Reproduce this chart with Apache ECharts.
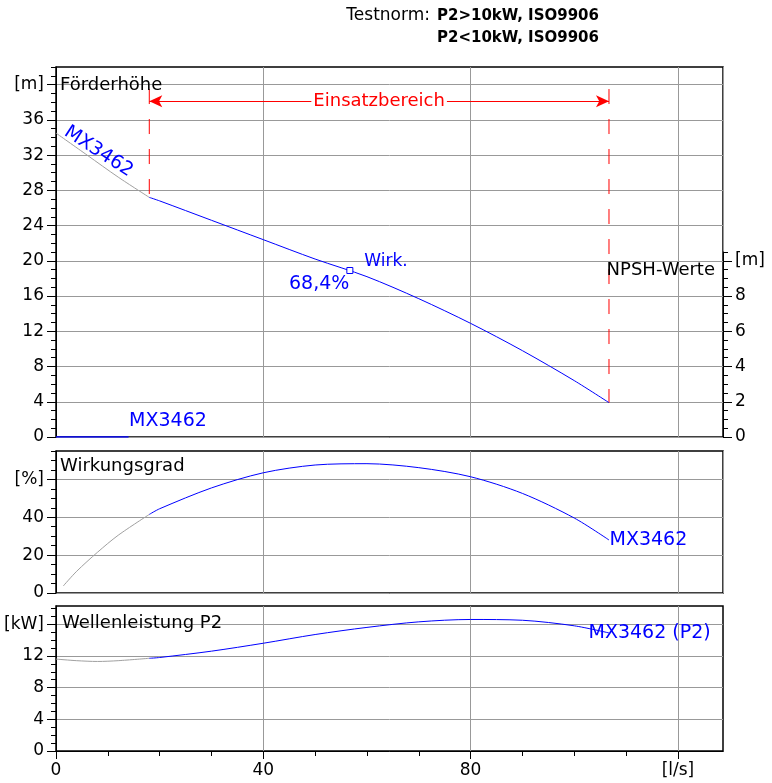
<!DOCTYPE html>
<html>
<head>
<meta charset="utf-8">
<script src="https://cdn.jsdelivr.net/npm/echarts@6/dist/echarts.min.js"></script>
<style>
  html, body { margin: 0; background: #fff; }
  #chart { width: 772px; height: 783px; }
</style>
</head>
<body>
<div id="chart"></div>
<script>
// Achsen-Teilung
const qTicks = [0, 40, 80, 120];
const headTicks = [0, 4, 8, 12, 16, 20, 24, 28, 32, 36, 40];
const npshTicks = [0, 2, 4, 6, 8, 10];
const effTicks = [0, 20, 40, 60];
const powerTicks = [0, 4, 8, 12, 16];

// Förderhöhe [m] über Förderstrom [l/s]
const headQGray = [0, 6, 12, 18];
const headGray = [34.5, 32.0, 29.5, 27.2];
const headQ = [18, 20, 30, 40, 50, 60, 70, 80, 90, 100, 106.7];
const head = [27.2, 26.8, 24.6, 22.4, 20.2, 18.2, 15.7, 12.9, 9.8, 6.4, 3.9];

// NPSH [m]
const npshQ = [0, 14];
const npsh = [0, 0];

// Wirkungsgrad [%]
const effQGray = [1.4, 4, 8, 12, 18];
const effGray = [3.7, 11.5, 21.5, 30.5, 41.5];
const effQ = [18, 20, 30, 40, 50, 60, 70, 80, 90, 100, 106.7];
const eff = [41.5, 44.5, 55.5, 63.5, 67.6, 68.3, 66.2, 61.4, 52.6, 39.6, 28];

// Wellenleistung P2 [kW]
const powerQGray = [0, 4, 8, 12, 18];
const powerGray = [11.6, 11.4, 11.3, 11.4, 11.7];
const powerQ = [18, 20, 30, 40, 50, 60, 70, 80, 90, 100, 106.7];
const power = [11.7, 11.8, 12.6, 13.6, 14.7, 15.6, 16.3, 16.6, 16.5, 15.8, 14.9];

// Betriebspunkt, Einsatzbereich
const bepQ = 56.7;
const bepHead = 18.9;
const rangeTop = 39.5;
const arrowHead = 38.1;

const FONT = 'DejaVu Sans';
const BLUE = '#0000ff';
const GRAY = '#a0a0a0';
const RED = '#ff0000';
const X_MAX = 128.7;

const chart = echarts.init(document.getElementById('chart'));

const pairs = (xs, ys) => xs.map((x, i) => [x, ys[i]]);
const range = (a, b, s) => {
  const r = [];
  for (let v = a; v <= b + 1e-9; v += s) r.push(+v.toFixed(2));
  return r;
};
const last = arr => arr[arr.length - 1];

const gridLine = { show: true, lineStyle: { color: '#999', width: 1 } };
const labelStyle = { color: '#000', fontSize: 17, fontFamily: FONT };

// x-Achse ohne Beschriftung (nur Gitter)
const plainX = gridIndex => ({
  type: 'value', gridIndex, min: 0, max: X_MAX, interval: 40,
  axisLine: { show: false, onZero: false },
  axisTick: { show: false },
  axisLabel: { show: false },
  splitLine: gridLine
});

// y-Achse: Hauptstriche + Beschriftung
const majorY = (gridIndex, max, interval, ticks, unitAt, unit, position) => ({
  type: 'value', gridIndex, min: 0, max, interval, position: position || 'left',
  axisLine: { show: true, onZero: false, lineStyle: { color: '#000', width: 1 } },
  axisTick: { show: true, customValues: ticks, length: 9, lineStyle: { color: '#000' } },
  axisLabel: Object.assign({
    customValues: ticks, margin: 12,
    formatter: v => (v === unitAt ? unit : String(v))
  }, labelStyle),
  splitLine: position === 'right' ? { show: false } : gridLine
});

// y-Achse: Zwischenstriche
const minorY = (gridIndex, max, ticks, position) => ({
  type: 'value', gridIndex, min: 0, max, position: position || 'left',
  axisLine: { show: false, onZero: false },
  axisTick: { show: true, customValues: ticks, length: 5, lineStyle: { color: '#000' } },
  axisLabel: { show: false },
  splitLine: { show: false }
});

const curve = (xi, yi, data, color, extra) => Object.assign({
  type: 'line', xAxisIndex: xi, yAxisIndex: yi, data,
  smooth: 0.3, symbol: 'none', silent: true,
  lineStyle: { color, width: 1 }
}, extra || {});

// rote Begrenzung des Einsatzbereichs
const limitLine = (q, h) => ({
  type: 'line', xAxisIndex: 0, yAxisIndex: 0,
  data: [[q, rangeTop], [q, h]],
  symbol: 'none', silent: true, z: 3,
  lineStyle: { color: RED, width: 1, type: [15, 15] }
});

const textMark = (coord, text, label) => ({
  coord, symbol: 'circle', symbolSize: 1,
  itemStyle: { color: 'transparent' },
  label: Object.assign({ show: true, formatter: text, color: BLUE, fontSize: 19, fontFamily: FONT }, label)
});

const titleStyle = { fontSize: 18, fontWeight: 'normal', color: '#000', fontFamily: FONT, lineHeight: 20 };

const option = {
  animation: false,
  backgroundColor: '#fff',
  textStyle: { fontFamily: FONT },
  title: [
    { text: 'Testnorm:', right: 342, top: 6, padding: 0,
      textStyle: { fontSize: 17, fontWeight: 'normal', color: '#000', fontFamily: FONT, lineHeight: 20 } },
    { text: 'P2>10kW, ISO9906\nP2<10kW, ISO9906', left: 437, top: 5, padding: 0,
      textStyle: { fontSize: 15, fontWeight: 'bold', color: '#000', fontFamily: FONT, lineHeight: 22 } },
    { text: 'Förderhöhe', left: 60, top: 75, padding: 0, textStyle: titleStyle },
    { text: 'Wirkungsgrad', left: 60, top: 456, padding: 0, textStyle: titleStyle },
    { text: 'Wellenleistung P2', left: 62, top: 613, padding: 0, textStyle: titleStyle },
    { text: 'NPSH-Werte', right: 57, top: 260, padding: 0, textStyle: titleStyle }
  ],
  grid: [
    { left: 56, top: 67, width: 667, height: 370, show: true, borderColor: '#000', borderWidth: 1.5, backgroundColor: 'transparent' },
    { left: 56, top: 451, width: 667, height: 142, show: true, borderColor: '#000', borderWidth: 1.5, backgroundColor: 'transparent' },
    { left: 56, top: 606, width: 667, height: 145, show: true, borderColor: '#000', borderWidth: 1.5, backgroundColor: 'transparent' },
    // NPSH-Skala: halber Maßstab der Förderhöhe, nur bis 10.5 m
    { left: 56, top: 252, width: 667, height: 185, show: false }
  ],
  xAxis: [
    plainX(0),
    plainX(1),
    {
      type: 'value', gridIndex: 2, min: 0, max: X_MAX, interval: 40, position: 'bottom',
      axisLine: { show: true, onZero: false, lineStyle: { color: '#000' } },
      axisTick: { show: true, customValues: qTicks, length: 8, lineStyle: { color: '#000' } },
      axisLabel: Object.assign({
        customValues: qTicks, margin: 11,
        formatter: v => (v === 120 ? '[l/s]' : String(v))
      }, labelStyle),
      splitLine: gridLine
    },
    {
      type: 'value', gridIndex: 2, min: 0, max: X_MAX, position: 'bottom',
      axisLine: { show: false, onZero: false },
      axisTick: { show: true, customValues: range(0, 120, 10), length: 5, lineStyle: { color: '#000' } },
      axisLabel: { show: false },
      splitLine: { show: false }
    },
    { type: 'value', gridIndex: 3, min: 0, max: X_MAX, show: false }
  ],
  yAxis: [
    majorY(0, 42, 4, headTicks, 40, '[m]'),
    minorY(0, 42, range(0, 42, 1)),
    majorY(1, 75, 20, effTicks, 60, '[%]'),
    minorY(1, 75, range(0, 75, 5)),
    majorY(2, 18.3, 4, powerTicks, 16, '[kW]'),
    minorY(2, 18.3, range(0, 18, 1)),
    majorY(3, 10.5, 2, npshTicks, 10, '[m]', 'right'),
    minorY(3, 10.5, range(0, 10.5, 0.5), 'right')
  ],
  series: [
    limitLine(headQ[0], head[0]),
    limitLine(last(headQ), last(head)),
    curve(0, 0, pairs(headQGray, headGray), GRAY, {
      markPoint: {
        z: 10,
        data: [textMark([8.2, 32.4], 'MX3462', { position: 'inside', rotate: -33 })]
      }
    }),
    curve(0, 0, pairs(headQ, head), BLUE, {
      markLine: {
        silent: true,
        symbol: ['arrow', 'arrow'],
        symbolSize: [9, 13],
        label: { show: false },
        lineStyle: { color: RED, width: 1, type: 'solid' },
        data: [
          [{ coord: [headQ[0], arrowHead] }, { coord: [last(headQ), arrowHead] }]
        ]
      },
      markPoint: {
        z: 10,
        data: [
          {
            coord: [bepQ, bepHead], symbol: 'rect', symbolSize: 6,
            itemStyle: { color: '#fff', borderColor: BLUE, borderWidth: 1 },
            label: { show: true, formatter: 'Wirk.', position: 'right', distance: 11, offset: [0, -9], color: BLUE, fontSize: 17, fontFamily: FONT }
          },
          textMark([bepQ, bepHead], '68,4%', { position: 'left', distance: 0, offset: [0, 14] }),
          textMark([(headQ[0] + last(headQ)) / 2, arrowHead], 'Einsatzbereich', {
            position: 'inside', color: RED, fontSize: 18, backgroundColor: '#fff', padding: [0, 2]
          })
        ]
      }
    }),
    curve(4, 6, pairs(npshQ, npsh), BLUE, {
      lineStyle: { color: BLUE, width: 1.5 },
      markPoint: {
        z: 10,
        data: [textMark([last(npshQ), last(npsh)], 'MX3462', { position: 'right', distance: 0, offset: [0, -16] })]
      }
    }),
    curve(1, 2, pairs(effQGray, effGray), GRAY),
    curve(1, 2, pairs(effQ, eff), BLUE, {
      markPoint: {
        z: 10,
        data: [textMark([last(effQ), last(eff)], 'MX3462', { position: 'right', distance: 0 })]
      }
    }),
    curve(2, 4, pairs(powerQGray, powerGray), GRAY),
    curve(2, 4, pairs(powerQ, power), BLUE, {
      markPoint: {
        z: 10,
        data: [textMark([last(powerQ), last(power)], 'MX3462 (P2)', { position: 'right', distance: 0, offset: [-21, 0] })]
      }
    })
  ]
};

chart.setOption(option);
window.addEventListener('resize', () => chart.resize());
</script>
</body>
</html>
